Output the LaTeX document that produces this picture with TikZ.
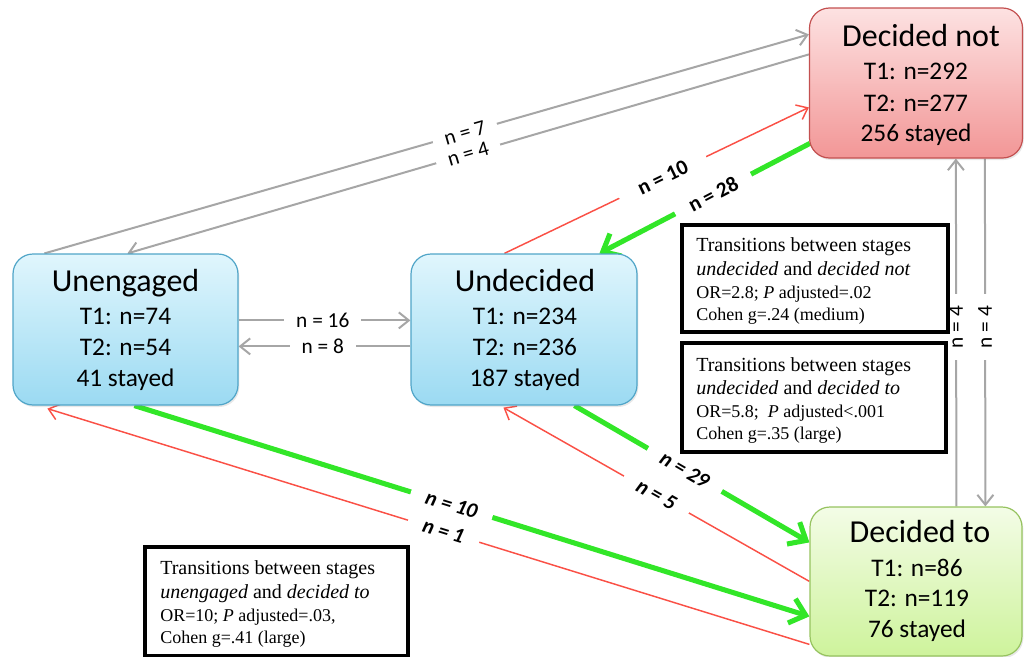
\documentclass[tikz,border=0pt]{standalone}
\usepackage{fontspec}
\setmainfont{Liberation Serif}
\newfontfamily\carlito{Carlito}
\usetikzlibrary{arrows.meta,calc,shadows}
\definecolor{grayc}{RGB}{166,166,166}
\definecolor{redc}{RGB}{250,80,70}
\definecolor{greenc}{RGB}{50,230,40}
\definecolor{blueT}{RGB}{224,246,253}
\definecolor{blueB}{RGB}{155,218,242}
\definecolor{blueD}{RGB}{80,165,200}
\definecolor{pinkT}{RGB}{253,226,226}
\definecolor{pinkB}{RGB}{242,150,150}
\definecolor{pinkD}{RGB}{195,80,80}
\definecolor{limeT}{RGB}{243,252,230}
\definecolor{limeB}{RGB}{206,243,156}
\definecolor{limeD}{RGB}{150,195,95}
\pgfdeclarelayer{bg}
\pgfsetlayers{bg,main}
\begin{document}
\begin{tikzpicture}[x=0.75pt,y=-0.75pt,
  stage/.style={rectangle, rounded corners=15pt, inner sep=0pt, line width=0.9pt,
    drop shadow={opacity=0.18, shadow xshift=1pt, shadow yshift=-1.5pt}},
  bluestage/.style={stage, draw=blueD, top color=blueT, bottom color=blueB},
  pinkstage/.style={stage, draw=pinkD, top color=pinkT, bottom color=pinkB},
  limestage/.style={stage, draw=limeD, top color=limeT, bottom color=limeB},
  ttl/.style={font=\carlito\fontsize{24}{28}\selectfont, inner sep=0pt, anchor=base},
  ln/.style={font=\carlito\fontsize{19}{22}\selectfont, inner sep=0pt, anchor=base},
  lbl/.style={font=\carlito\fontsize{16}{19}\selectfont, fill=white, inner xsep=9pt, inner ysep=0pt, sloped},
  blbl/.style={lbl, font=\carlito\bfseries\fontsize{16}{19}\selectfont},
  bilbl/.style={lbl, font=\carlito\bfseries\itshape\fontsize{16}{19}\selectfont},
  grayarrow/.style={draw=grayc, line width=1.5pt, -{Straight Barb[length=7.5pt,width=12pt]}},
  redarrow/.style={draw=redc, line width=1.1pt, -{Straight Barb[length=7.5pt,width=12pt]}},
  greenarrow/.style={draw=greenc, line width=3.8pt, -{Straight Barb[length=11pt,width=19pt]}},
  tbox/.style={rectangle, draw=black, line width=3pt, fill=white, inner sep=0pt},
  tline/.style={font=\fontsize{15}{18}\selectfont, anchor=base west, inner sep=0pt},
  tsmall/.style={font=\fontsize{13.5}{16}\selectfont, anchor=base west, inner sep=0pt}
]
\useasboundingbox (0,0) rectangle (1026,657);

% stage boxes
\node[bluestage, minimum width=168.75pt, minimum height=113.25pt] (un) at (125.5,329.5) {};
\node[bluestage, minimum width=169.5pt, minimum height=113.25pt] (ud) at (524,329.5) {};
\node[pinkstage, minimum width=159.75pt, minimum height=112.5pt] (dn) at (916,83) {};
\node[limestage, minimum width=159pt, minimum height=111.75pt] (dt) at (916,581.5) {};

% stage texts
\node[ttl] (un0) at ($(un.north)+(0,38)$) {Unengaged};
\node[ln]  (un1) at ($(un.north)+(0,71)$) {T1: n=74};
\node[ln]  (un2) at ($(un.north)+(0,102)$) {T2: n=54};
\node[ln]  (un3) at ($(un.north)+(0,133)$) {41 stayed};

\node[ttl] (ud0) at ($(ud.north)+(1,38)$) {Undecided};
\node[ln]  (ud1) at ($(ud.north)+(1,71)$) {T1: n=234};
\node[ln]  (ud2) at ($(ud.north)+(1,102)$) {T2: n=236};
\node[ln]  (ud3) at ($(ud.north)+(1,133)$) {187 stayed};

\node[ttl] (dn0) at ($(dn.north)+(5,39)$) {Decided not};
\node[ln]  (dn1) at ($(dn.north)+(0,72)$) {T1: n=292};
\node[ln]  (dn2) at ($(dn.north)+(0,104)$) {T2: n=277};
\node[ln]  (dn3) at ($(dn.north)+(0,134)$) {256 stayed};

\node[ttl] (dt0) at ($(dt.north)+(4,36)$) {Decided to};
\node[ln]  (dt1) at ($(dt.north)+(1,70)$) {T1: n=86};
\node[ln]  (dt2) at ($(dt.north)+(1,100)$) {T2: n=119};
\node[ln]  (dt3) at ($(dt.north)+(1,131)$) {76 stayed};

% text boxes
\node[tbox, minimum width=199.5pt, minimum height=80.25pt] (b1) at (815,278.5) {};
\node[tline] (b1a) at (696,251) {Transitions between stages};
\node[tline] (b1b) at (696,275) {\textit{undecided} and \textit{decided not}};
\node[tsmall] (b1c) at (696,298) {OR=2.8; \textit{P} adjusted=.02};
\node[tsmall] (b1d) at (696,320) {Cohen g=.24 (medium)};

\node[tbox, minimum width=198pt, minimum height=81.75pt] (b2) at (814,397.5) {};
\node[tline] (b2a) at (696,371) {Transitions between stages};
\node[tline] (b2b) at (696,394) {\textit{undecided} and \textit{decided to}};
\node[tsmall] (b2c) at (696,417) {OR=5.8;\ \ \textit{P} adjusted<.001};
\node[tsmall] (b2d) at (696,439) {Cohen g=.35 (large)};

\node[tbox, minimum width=197.25pt, minimum height=81.75pt] (b3) at (276.5,601.5) {};
\node[tline] (b3a) at (160,574) {Transitions between stages};
\node[tline] (b3b) at (160,598) {\textit{unengaged} and \textit{decided to}};
\node[tsmall] (b3c) at (160,621) {OR=10; \textit{P} adjusted=.03,};
\node[tsmall] (b3d) at (160,643) {Cohen g=.41 (large)};

% connectors
\begin{pgfonlayer}{bg}
\draw[grayarrow] ($(un.north west)+(32,0)$) -- node[lbl,pos=0.55] (l1) {n = 7} ($(dn.north west)+(0,27)$);
\draw[grayarrow] ($(dn.north west)+(0,47)$) -- node[lbl,pos=0.50] (l2) {n = 4} ($(un.north west)+(115,0)$);
\draw[grayarrow] ($(un.north east)+(0,67)$) -- node[lbl,pos=0.49] (l3) {n = 16} ($(ud.north west)+(0,67)$);
\draw[grayarrow] ($(ud.north west)+(0,93)$) -- node[lbl,pos=0.51] (l4) {n = 8} ($(un.north east)+(0,93)$);
\draw[grayarrow] ($(dt.north west)+(147,0)$) -- node[lbl,sloped=false,rotate=90,pos=0.516] (l5) {n = 4} ($(dn.south west)+(147,0)$);
\draw[grayarrow] ($(dn.south west)+(176,0)$) -- node[lbl,sloped=false,rotate=90,pos=0.484] (l6) {n = 4} ($(dt.north west)+(176,0)$);

\draw[redarrow] ($(ud.north west)+(94,0)$) -- node[blbl,pos=0.52,inner xsep=16pt] (l7) {n = 10} ($(dn.north west)+(0,100)$);
\draw[greenarrow] ($(dn.north west)+(1,136)$) -- node[blbl,pos=0.46,inner xsep=12pt] (l8) {n = 28} ($(ud.north west)+(189,0)$);
\draw[greenarrow] ($(ud.south west)+(164,0)$) -- node[bilbl,pos=0.47,inner xsep=12pt] (l9) {n = 29} ($(dt.north west)+(0,36)$);
\draw[redarrow] ($(dt.north west)+(0,75)$) -- node[bilbl,pos=0.5,inner xsep=12pt] (l10) {n = 5} ($(ud.south west)+(93,2)$);
\draw[greenarrow] ($(un.south west)+(122,0)$) -- node[bilbl,pos=0.47,inner xsep=12pt] (l11) {n = 10} ($(dt.north west)+(0,110)$);
\draw[redarrow] ($(dt.north west)+(0,138)$) -- node[bilbl,pos=0.48,inner xsep=12pt] (l12) {n = 1} ($(un.south west)+(35,3)$);
\end{pgfonlayer}
\end{tikzpicture}
\end{document}
